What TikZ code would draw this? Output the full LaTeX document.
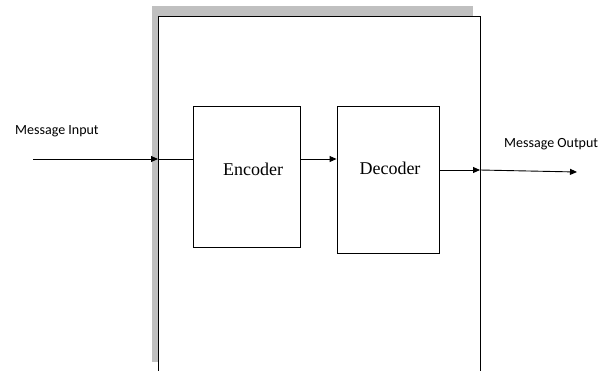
\documentclass[tikz,border=0pt]{standalone}
\usepackage{fontspec}
\setmainfont{Liberation Serif}
\newfontfamily\labelfont{Carlito}
\usetikzlibrary{arrows.meta}
\begin{document}
\begin{tikzpicture}[x=1pt,y=-1pt,
  blk/.style={draw, line width=0.9pt, inner sep=0pt},
  blktext/.style={font=\fontsize{18}{21}\selectfont, inner sep=0pt},
  lbl/.style={font=\labelfont\fontsize{14}{16}\selectfont, inner sep=0pt, anchor=west},
  arr/.style={line width=0.9pt, -{Triangle[length=7pt,width=6pt]}},
  ln/.style={line width=0.9pt}]
\useasboundingbox (0,0) rectangle (611,370);
% shadow and system box
\fill[fill={rgb,255:red,192;green,192;blue,192}] (152,6) rectangle (473,362);
\fill[white] (158,16) rectangle (480,372);
\draw[line width=0.9pt] (158,372) -- (158,16) -- (480,16) -- (480,372);
\coordinate (sysin) at (158,159);
\coordinate (sysout) at (480,170);
% blocks
\node[blk, minimum width=107pt, minimum height=141pt] (enc) at (246.5,176.5) {};
\node[blktext] (enct) at (253,169) {Encoder};
\node[blk, minimum width=102pt, minimum height=147pt] (dec) at (388,179.5) {};
\node[blktext] (dect) at (390,168) {Decoder};
% connectors
\coordinate (in) at (33,159);
\coordinate (out) at (577,172);
\draw[arr] (in) -- (sysin);
\draw[ln] (sysin) -- (enc.west |- sysin);
\draw[arr] (enc.east |- sysin) -- (dec.west |- sysin);
\draw[arr] (dec.east |- sysout) -- (sysout);
\draw[arr] (sysout) -- (out);
% labels
\node[lbl] (lin) at (15,131) {Message Input};
\node[lbl] (lout) at (504,144) {Message Output};
\end{tikzpicture}
\end{document}
